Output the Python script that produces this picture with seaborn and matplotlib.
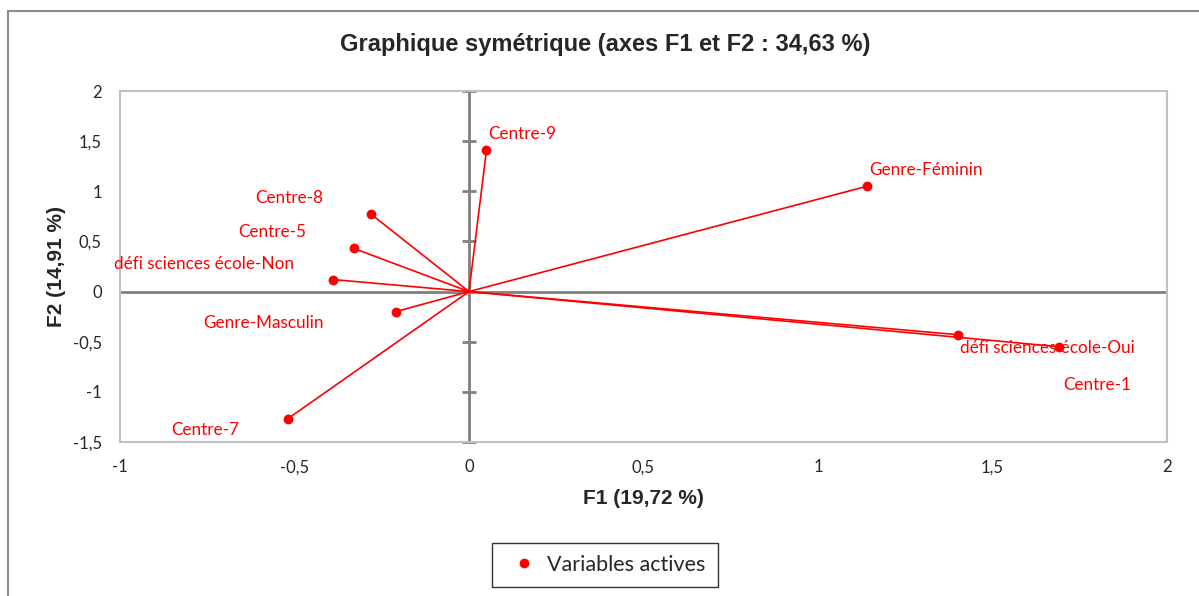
import matplotlib
matplotlib.use("Agg")
import matplotlib.pyplot as plt
import seaborn as sns
import pandas as pd
from matplotlib.lines import Line2D
from matplotlib.patches import Rectangle

# ---- data ----
labels = ["Centre-9", "Genre-Féminin", "Centre-8", "Centre-5",
          "défi sciences école-Non", "Genre-Masculin", "Centre-7",
          "défi sciences école-Oui", "Centre-1"]
f1 = [0.05, 1.14, -0.28, -0.33, -0.39, -0.21, -0.52, 1.40, 1.69]
f2 = [1.41, 1.05, 0.77, 0.43, 0.12, -0.20, -1.27, -0.43, -0.55]
xticks = [-1, -0.5, 0, 0.5, 1, 1.5, 2]
yticks = [-1.5, -1, -0.5, 0, 0.5, 1, 1.5, 2]
tick_fmt = lambda v: ("%g" % v).replace(".", ",")

# label offsets in pixels (dx, dy) and alignment
label_pos = [(2, 16, "left"), (2, 16, "left"), (-48, 16, "right"), (-48, 16, "right"),
             (-39, 16, "right"), (-72, -11, "right"), (-48, -11, "right"),
             (2, -13, "left"), (72, -38, "right")]

df = pd.DataFrame({"F1": f1, "F2": f2, "label": labels})

sns.set_style("white")
plt.rcParams["font.family"] = ["Lato", "DejaVu Sans"]

W, H = 1199, 596
fig = plt.figure(figsize=(W / 100, H / 100), dpi=100)
ax = fig.add_axes([120 / W, 1 - 442 / H, (1167 - 120) / W, (442 - 91) / H])

red = "#FF0000"
gray = "#808080"

# zero axes
ax.axhline(0, color=gray, lw=2, zorder=1)
ax.axvline(0, color=gray, lw=2, zorder=1)
ax.plot([0] * len(yticks), yticks, marker="_", ms=10, mew=2, color=gray,
        linestyle="none", zorder=1, clip_on=False)

# segments from origin
for x, y in zip(f1, f2):
    ax.plot([0, x], [0, y], color=red, lw=1.2, zorder=2)

sns.scatterplot(data=df, x="F1", y="F2", ax=ax, color=red, s=50,
                edgecolor=red, linewidth=0, zorder=3, legend=False)

for (x, y, lab), (dx, dy, ha) in zip(zip(f1, f2, labels), label_pos):
    ax.annotate(lab, (x, y), xytext=(dx, dy), textcoords="offset pixels",
                ha=ha, va="center", color=red, fontsize=12.3)

ax.set_xlim(-1, 2)
ax.set_ylim(-1.5, 2)
ax.set_xticks(xticks)
ax.set_yticks(yticks)
ax.set_xticklabels([tick_fmt(v) for v in xticks], fontsize=12)
ax.set_yticklabels([tick_fmt(v) for v in yticks], fontsize=12)
ax.tick_params(length=0, pad=12.5)
ax.tick_params(axis="y", pad=13)
for s in ax.spines.values():
    s.set_color("#C0C0C0")
    s.set_linewidth(1.5)

ax.set_xlabel("F1 (19,72 %)", fontsize=15, fontweight="bold",
              family="Liberation Sans", labelpad=10)
ax.set_ylabel("F2 (14,91 %)", fontsize=15, fontweight="bold",
              family="Liberation Sans", labelpad=5)

fig.text(605 / W, 1 - 45 / H, "Graphique symétrique (axes F1 et F2 : 34,63 %)",
         ha="center", va="center", fontsize=17, fontweight="bold",
         family="Liberation Sans")

# outer chart frame
fig.patches.append(Rectangle((8 / W, -0.1), 1.2, 1 - 11 / H + 0.1,
                             transform=fig.transFigure, fill=False,
                             edgecolor="#8C8C8C", lw=1.5))

handle = Line2D([], [], marker="o", color=red, linestyle="none", markersize=6)
leg = ax.legend([handle], ["Variables actives"], loc="center",
                bbox_to_anchor=(605 / W, 1 - 565 / H),
                bbox_transform=fig.transFigure, frameon=True, fancybox=False,
                fontsize=15.5, borderpad=0.55, handletextpad=0.2,
                handlelength=1.8, borderaxespad=0)
leg.get_frame().set_edgecolor("#000000")
leg.get_frame().set_linewidth(1)

fig.savefig("out.png", dpi=100)
